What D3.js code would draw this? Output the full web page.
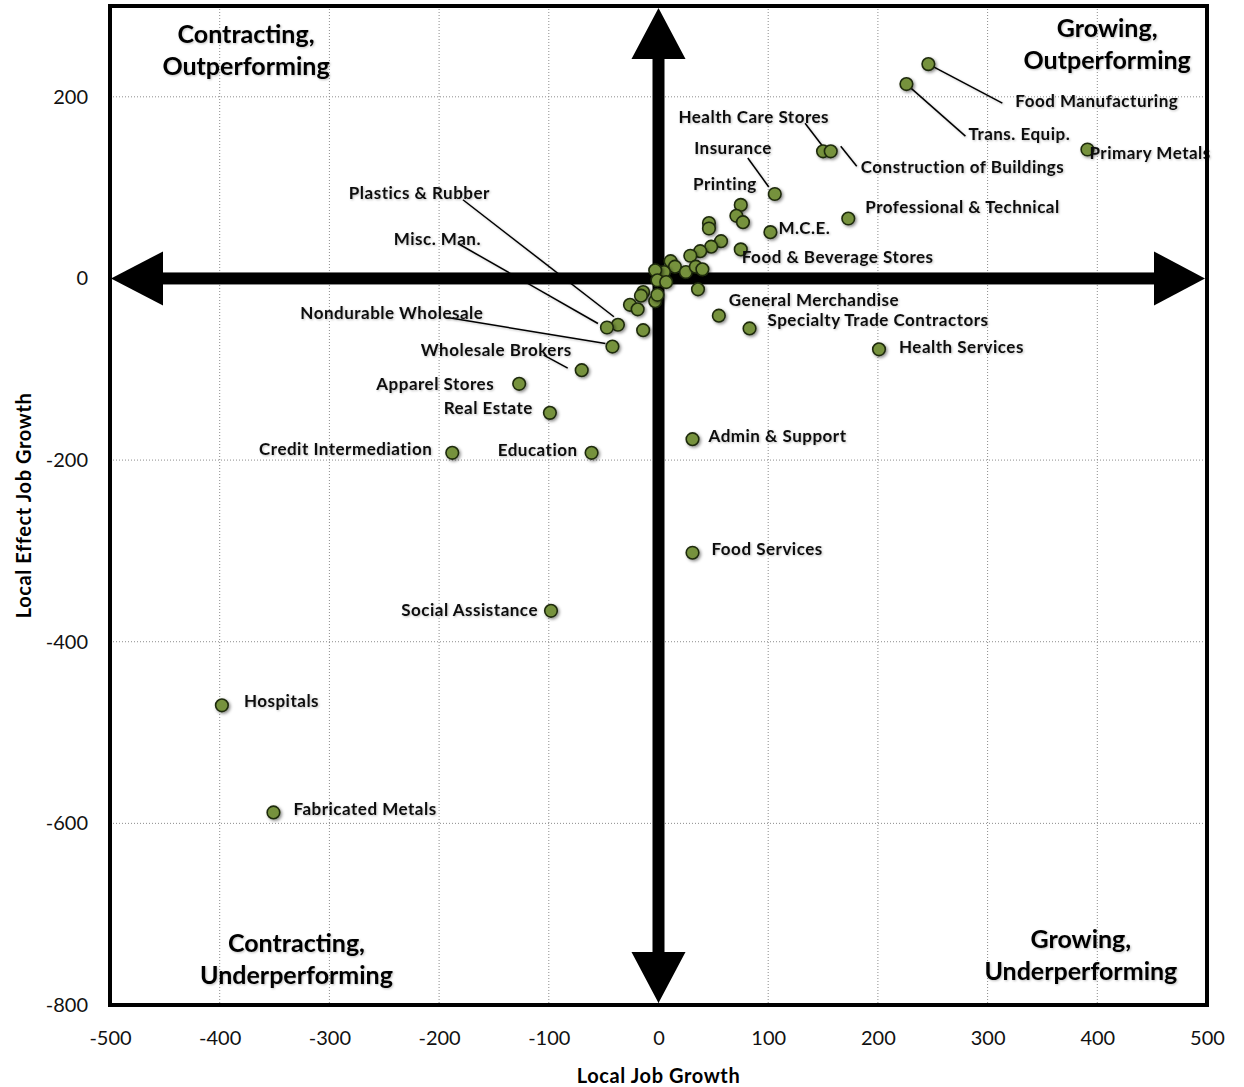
<!DOCTYPE html>
<html>
<head>
<meta charset="utf-8">
<script src="https://cdn.jsdelivr.net/npm/d3@7"></script>
<style>
  body { margin: 0; background: #fff; }
  text { font-family: Lato, "Open Sans", sans-serif; }
</style>
</head>
<body>
<div id="chart"></div>
<script>
// Industries (empty name = unlabelled point)
var industries = [
  "Food Manufacturing", "Trans. Equip.", "Primary Metals", "Health Care Stores", "Construction of Buildings",
  "Insurance", "Printing", "", "", "", "", "M.C.E.", "Professional & Technical", "", "", "",
  "Food & Beverage Stores", "", "", "", "", "", "", "", "", "", "", "", "", "", "", "", "", "",
  "General Merchandise", "Specialty Trade Contractors", "", "Plastics & Rubber", "Misc. Man.",
  "Nondurable Wholesale", "Wholesale Brokers", "Health Services", "Apparel Stores", "Real Estate",
  "Credit Intermediation", "Education", "Admin & Support", "Food Services", "Social Assistance",
  "Hospitals", "Fabricated Metals"
];
// Local job growth (x)
var jobGrowth = [
  246, 226, 391, 150, 157,
  106, 75, 71, 77, 46, 46, 102, 173, 57, 48, 38,
  75, 29, 11, 15, 25, 34, 40, 5, -3, -1, 7, 36, -14, -16, -26, -19, -3, -1,
  55, 83, -14, -37, -47,
  -42, -70, 201, -127, -99,
  -188, -61, 31, 31, -98,
  -398, -351
];
// Local effect job growth (y)
var localEffect = [
  236, 214, 142, 140, 140,
  93, 81, 69, 62, 61, 55, 51, 66, 41, 35, 30,
  32, 25, 19, 13, 7, 13, 10, 7, 9, -2, -4, -12, -15, -19, -29, -34, -25, -18,
  -41, -55, -57, -51, -54,
  -75, -101, -78, -116, -148,
  -192, -192, -177, -302, -366,
  -470, -588
];
var xTicks = [-500, -400, -300, -200, -100, 0, 100, 200, 300, 400, 500];
var yTicks = [-800, -600, -400, -200, 0, 200];
var quadrantLabels = [
  { lines: ["Contracting,", "Outperforming"], x: -376, y: 259 },
  { lines: ["Growing,", "Outperforming"], x: 409, y: 266 },
  { lines: ["Contracting,", "Underperforming"], x: -330, y: -742 },
  { lines: ["Growing,", "Underperforming"], x: 385, y: -737 }
];

// label placement (pixel offsets from the point), leader = [x1,y1,x2,y2] offsets
var labelLayout = {
  "Food Manufacturing": { dx: 87, dy: 37, anchor: "start", leader: [0, 0, 74, 39] },
  "Trans. Equip.": { dx: 62, dy: 50, anchor: "start", leader: [0, 0, 59, 52] },
  "Primary Metals": { dx: 2, dy: 4, anchor: "start" },
  "Health Care Stores": { dx: 6, dy: -34, anchor: "end", leader: [-18, -28, 5, 2] },
  "Construction of Buildings": { dx: 30, dy: 16, anchor: "start", leader: [10, -5, 26, 15] },
  "Insurance": { dx: -3, dy: -46, anchor: "end", leader: [-27, -36, -6, -7] },
  "Printing": { dx: 16, dy: -21, anchor: "end" },
  "M.C.E.": { dx: 8, dy: -4, anchor: "start" },
  "Professional & Technical": { dx: 17, dy: -11, anchor: "start" },
  "Food & Beverage Stores": { dx: 1, dy: 8, anchor: "start" },
  "General Merchandise": { dx: 10, dy: -16, anchor: "start" },
  "Specialty Trade Contractors": { dx: 18, dy: -8, anchor: "start" },
  "Health Services": { dx: 20, dy: -2, anchor: "start" },
  "Admin & Support": { dx: 16, dy: -3, anchor: "start" },
  "Food Services": { dx: 19, dy: -4, anchor: "start" },
  "Social Assistance": { dx: -13, dy: -1, anchor: "end" },
  "Hospitals": { dx: 22, dy: -4, anchor: "start" },
  "Fabricated Metals": { dx: 20, dy: -3, anchor: "start" },
  "Credit Intermediation": { dx: -20, dy: -4, anchor: "end" },
  "Education": { dx: -14, dy: -3, anchor: "end" },
  "Real Estate": { dx: -17, dy: -5, anchor: "end" },
  "Apparel Stores": { dx: -25, dy: 0, anchor: "end" },
  "Wholesale Brokers": { dx: -10, dy: -20, anchor: "end", leader: [-38, -15, -14, -2] },
  "Nondurable Wholesale": { dx: -129, dy: -34, anchor: "end", leader: [-165, -29, -7, -3] },
  "Misc. Man.": { dx: -126, dy: -88, anchor: "end", leader: [-149, -84, -9, -4] },
  "Plastics & Rubber": { dx: -128, dy: -132, anchor: "end", leader: [-155, -125, -4, -8] }
};

var data = industries.map(function(d, i) {
  return { name: d, x: jobGrowth[i], y: localEffect[i] };
});

var width = 1244, height = 1087;
var margin = { top: 6, right: 37, bottom: 82, left: 110 };

var svg = d3.select("#chart").append("svg")
  .attr("width", width)
  .attr("height", height);

var defs = svg.append("defs");
var shadow = defs.append("filter").attr("id", "shadow")
  .attr("x", "-50%").attr("y", "-50%").attr("width", "200%").attr("height", "200%");
shadow.append("feDropShadow").attr("dx", 1.5).attr("dy", 1.5)
  .attr("stdDeviation", 1.5).attr("flood-color", "#000").attr("flood-opacity", 0.45);
var txtShadow = defs.append("filter").attr("id", "txtShadow")
  .attr("x", "-10%").attr("y", "-30%").attr("width", "120%").attr("height", "160%");
txtShadow.append("feDropShadow").attr("dx", 1).attr("dy", 1)
  .attr("stdDeviation", 1).attr("flood-color", "#000").attr("flood-opacity", 0.25);

var x = d3.scaleLinear().domain([-500, 500]).range([margin.left, width - margin.right]);
var y = d3.scaleLinear().domain([-800, 300]).range([height - margin.bottom, margin.top]);

// gridlines
svg.append("g").selectAll("line")
  .data(xTicks.slice(1, -1))
  .enter().append("line")
  .attr("x1", function(d) { return x(d); })
  .attr("x2", function(d) { return x(d); })
  .attr("y1", y(300)).attr("y2", y(-800))
  .attr("stroke", "#8c8c8c").attr("stroke-width", 1).attr("stroke-dasharray", "1,2");
svg.append("g").selectAll("line")
  .data(yTicks.slice(1))
  .enter().append("line")
  .attr("y1", function(d) { return y(d); })
  .attr("y2", function(d) { return y(d); })
  .attr("x1", x(-500)).attr("x2", x(500))
  .attr("stroke", "#8c8c8c").attr("stroke-width", 1).attr("stroke-dasharray", "1,2");

// axes (plain hyphen for negatives like the original)
var fmt = function(d) { return String(d); };
var xAxis = svg.append("g")
  .attr("transform", "translate(0," + y(-800) + ")")
  .call(d3.axisBottom(x).tickValues(xTicks).tickFormat(fmt).tickSize(0).tickPadding(26));
xAxis.select(".domain").remove();
xAxis.selectAll("text").style("font-size", "20px").style("fill", "#111");

var yAxis = svg.append("g")
  .attr("transform", "translate(" + x(-500) + ",0)")
  .call(d3.axisLeft(y).tickValues(yTicks).tickFormat(fmt).tickSize(0).tickPadding(22));
yAxis.select(".domain").remove();
yAxis.selectAll("text").style("font-size", "20px").style("fill", "#111");

// axis titles
svg.append("text")
  .attr("x", x(0)).attr("y", 1083)
  .attr("text-anchor", "middle")
  .style("font-size", "20px").style("font-weight", "bold").style("letter-spacing", "0.6px")
  .text("Local Job Growth");
svg.append("text")
  .attr("transform", "translate(31," + y(-250) + ") rotate(-90)")
  .attr("text-anchor", "middle")
  .style("font-size", "20px").style("font-weight", "bold").style("letter-spacing", "0.6px")
  .text("Local Effect Job Growth");

// quadrant arrows
var bar = 12, headLen = 53, headHalf = 27;
var x0 = x(0), y0 = y(0);
var arrows = svg.append("g").attr("fill", "#000");
arrows.append("rect")
  .attr("x", x(-500) + headLen - 2).attr("y", y0 - bar / 2)
  .attr("width", x(500) - x(-500) - 2 * headLen + 4).attr("height", bar);
arrows.append("rect")
  .attr("x", x0 - bar / 2).attr("y", y(300) + headLen - 2)
  .attr("width", bar).attr("height", y(-800) - y(300) - 2 * headLen + 4);
var heads = [
  [[x(-500) + 1, y0], [x(-500) + headLen, y0 - headHalf], [x(-500) + headLen, y0 + headHalf]],
  [[x(500) - 2, y0], [x(500) - headLen, y0 - headHalf], [x(500) - headLen, y0 + headHalf]],
  [[x0, y(300) + 2], [x0 - headHalf, y(300) + headLen], [x0 + headHalf, y(300) + headLen]],
  [[x0, y(-800) - 2], [x0 - headHalf, y(-800) - headLen], [x0 + headHalf, y(-800) - headLen]]
];
arrows.selectAll("path.head")
  .data(heads)
  .enter().append("path")
  .attr("class", "head")
  .attr("d", function(d) { return "M" + d.join("L") + "Z"; });

// quadrant labels
quadrantLabels.forEach(function(q) {
  var t = svg.append("text")
    .attr("text-anchor", "middle")
    .style("font-size", "25px").style("font-weight", "bold")
    .attr("filter", "url(#txtShadow)");
  q.lines.forEach(function(line, i) {
    t.append("tspan")
      .attr("x", x(q.x))
      .attr("y", y(q.y) + i * 32)
      .text(line);
  });
});

// leader lines
var labelled = data.filter(function(d) { return d.name && labelLayout[d.name]; });
svg.append("g").selectAll("line")
  .data(labelled.filter(function(d) { return labelLayout[d.name].leader; }))
  .enter().append("line")
  .attr("x1", function(d) { return x(d.x) + labelLayout[d.name].leader[0]; })
  .attr("y1", function(d) { return y(d.y) + labelLayout[d.name].leader[1]; })
  .attr("x2", function(d) { return x(d.x) + labelLayout[d.name].leader[2]; })
  .attr("y2", function(d) { return y(d.y) + labelLayout[d.name].leader[3]; })
  .attr("stroke", "#000").attr("stroke-width", 1.5)
  .attr("filter", "url(#txtShadow)");

// points
svg.append("g").selectAll("circle")
  .data(data)
  .enter().append("circle")
  .attr("cx", function(d) { return x(d.x); })
  .attr("cy", function(d) { return y(d.y); })
  .attr("r", 6.3)
  .attr("fill", "#76923c")
  .attr("stroke", "#1f2a0c")
  .attr("stroke-width", 1.6)
  .attr("filter", "url(#shadow)");

// point labels
svg.append("g").selectAll("text")
  .data(labelled)
  .enter().append("text")
  .attr("x", function(d) { return x(d.x) + labelLayout[d.name].dx; })
  .attr("y", function(d) { return y(d.y) + labelLayout[d.name].dy; })
  .attr("dy", "0.35em")
  .attr("text-anchor", function(d) { return labelLayout[d.name].anchor; })
  .style("font-size", "17px").style("font-weight", "bold").style("letter-spacing", "0.5px")
  .style("fill", "#111")
  .attr("filter", "url(#txtShadow)")
  .text(function(d) { return d.name; });

// plot border
svg.append("rect")
  .attr("x", x(-500)).attr("y", y(300))
  .attr("width", x(500) - x(-500)).attr("height", y(-800) - y(300))
  .attr("fill", "none").attr("stroke", "#000").attr("stroke-width", 4);
</script>
</body>
</html>
